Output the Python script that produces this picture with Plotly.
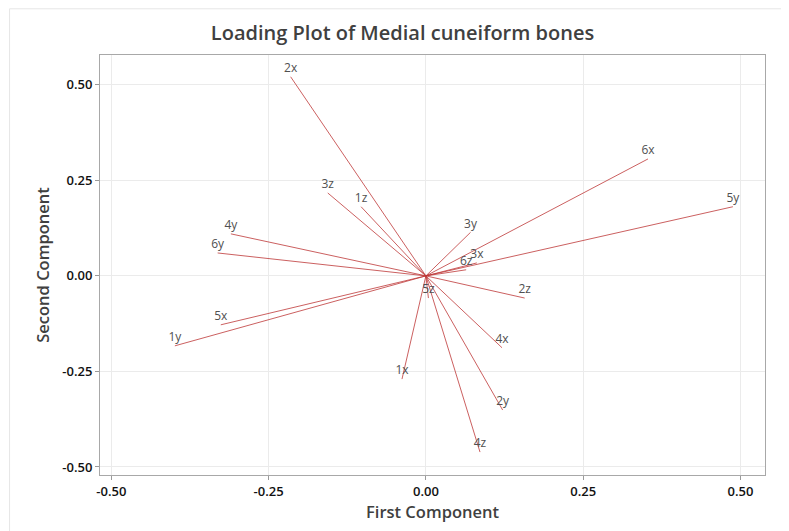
import plotly.graph_objects as go

variables = ["2x", "6x", "5y", "3z", "1z", "4y", "6y", "5x", "1y", "3y",
             "3x", "6z", "5z", "2z", "4x", "1x", "2y", "4z"]
pc1 = [-0.215, 0.353, 0.488, -0.156, -0.103, -0.310, -0.331, -0.326, -0.399, 0.071,
       0.081, 0.064, 0.004, 0.157, 0.121, -0.038, 0.122, 0.086]
pc2 = [0.521, 0.306, 0.181, 0.217, 0.181, 0.110, 0.060, -0.128, -0.183, 0.114,
       0.034, 0.016, -0.058, -0.058, -0.188, -0.270, -0.351, -0.461]

tick_vals = [-0.50, -0.25, 0.00, 0.25, 0.50]
tick_text = ["-0.50", "-0.25", "0.00", "0.25", "0.50"]

line_color = "rgb(190,55,55)"

# one segment per loading, origin -> (pc1, pc2)
xs, ys = [], []
for x, y in zip(pc1, pc2):
    xs += [0, x, None]
    ys += [0, y, None]

fig = go.Figure()
fig.add_trace(
    go.Scatter(
        x=xs,
        y=ys,
        mode="lines",
        line={"color": line_color, "width": 0.8},
        hoverinfo="skip",
        showlegend=False
    )
)
fig.add_trace(
    go.Scatter(
        x=pc1,
        y=pc2,
        mode="text",
        text=[v + "<br> " for v in variables],
        textposition="middle center",
        textfont={"family": "Open Sans, sans-serif", "size": 12, "color": "#505050"},
        showlegend=False
    )
)

# light frame around the whole graph
fig.add_shape(
    type="rect", xref="paper", yref="paper",
    x0=-0.136, x1=1.06, y0=-0.2, y1=1.11,
    line={"color": "#e6e6e6", "width": 1},
    layer="below"
)

fig.update_layout(
    width=789,
    height=531,
    margin={"l": 92, "r": 32, "t": 47, "b": 64},
    paper_bgcolor="white",
    plot_bgcolor="white",
    font={"family": "Open Sans, sans-serif", "size": 13, "color": "#222222"},
    title={
        "text": "Loading Plot of Medial cuneiform bones",
        "x": 0.5,
        "xanchor": "center",
        "y": 0.953,
        "yanchor": "middle",
        "font": {"size": 20, "color": "#404040", "weight": 600}
    },
    xaxis={
        "title": {"text": "First Component", "font": {"size": 16.5, "color": "#404040", "weight": 600}, "standoff": 7},
        "range": [-0.518, 0.539],
        "tickvals": tick_vals,
        "ticktext": tick_text,
        "tickfont": {"size": 13, "color": "#111111", "weight": 600},
        "ticks": "outside",
        "ticklen": 4,
        "tickcolor": "#9a9a9a",
        "showgrid": True,
        "gridcolor": "#ebebeb",
        "zeroline": False,
        "showline": True,
        "linecolor": "#a8a8a8",
        "mirror": True
    },
    yaxis={
        "title": {"text": "Second Component", "font": {"size": 16.5, "color": "#404040", "weight": 600}, "standoff": 8},
        "range": [-0.521, 0.578],
        "tickvals": tick_vals,
        "ticktext": tick_text,
        "tickfont": {"size": 13, "color": "#111111", "weight": 600},
        "ticks": "outside",
        "ticklen": 4,
        "tickcolor": "#9a9a9a",
        "showgrid": True,
        "gridcolor": "#ebebeb",
        "zeroline": False,
        "showline": True,
        "linecolor": "#a8a8a8",
        "mirror": True
    }
)

fig.write_html("out.html")
